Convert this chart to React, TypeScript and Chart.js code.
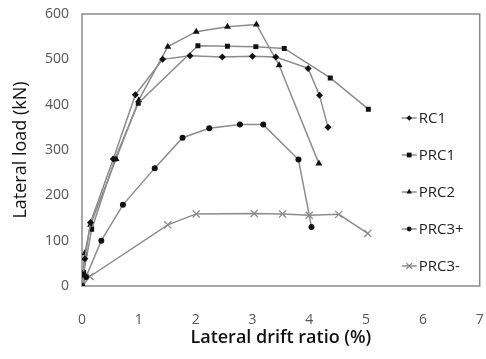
import React, { useEffect, useRef } from 'react';
import { Chart, registerables } from 'chart.js';

Chart.register(...registerables);

const seriesNames = ['RC1', 'PRC1', 'PRC2', 'PRC3+', 'PRC3-'];

const rc1X = [0, 0.02, 0.05, 0.15, 0.55, 0.94, 1.42, 1.9, 2.47, 3.0, 3.41, 3.98, 4.18, 4.33];
const rc1Y = [0, 25, 60, 140, 280, 422, 500, 508, 505, 507, 505, 480, 421, 350];

const prc1X = [0, 0.03, 0.17, 0.58, 0.99, 2.04, 2.56, 3.06, 3.56, 4.37, 5.04];
const prc1Y = [0, 30, 125, 280, 403, 530, 529, 528, 524, 459, 390];

const prc2X = [0, 0.05, 0.15, 0.6, 1.0, 1.51, 2.01, 2.56, 3.07, 3.47, 4.17];
const prc2Y = [0, 72, 135, 280, 410, 528, 561, 572, 577, 487, 270];

const prc3pX = [0, 0.07, 0.34, 0.72, 1.28, 1.77, 2.24, 2.78, 3.19, 3.81, 4.04];
const prc3pY = [0, 20, 100, 179, 260, 327, 348, 356, 356, 279, 130];

const prc3mX = [0, 0.14, 1.51, 2.01, 3.03, 3.53, 4.0, 4.52, 5.03];
const prc3mY = [0, 21, 135, 159, 160, 159, 156, 158, 116];

const xTicks = [0, 1, 2, 3, 4, 5, 6, 7];
const yTicks = [0, 100, 200, 300, 400, 500, 600];

const xs = [rc1X, prc1X, prc2X, prc3pX, prc3mX];
const ys = [rc1Y, prc1Y, prc2Y, prc3pY, prc3mY];
const styles = ['rectRot', 'rect', 'triangle', 'circle', 'crossRot'];
const radii = [3.5, 3.5, 4, 3, 5];
const markerColors = ['#111', '#111', '#111', '#111', '#8a8a8a'];
const lineColor = '#8c8c8c';
const FONT = '"Open Sans", "Noto Sans", sans-serif';

function drawMarker(ctx: CanvasRenderingContext2D, style: string, x: number, y: number, r: number, color: string) {
  ctx.save();
  ctx.fillStyle = color;
  ctx.strokeStyle = color;
  ctx.lineWidth = 1.3;
  ctx.beginPath();
  if (style === 'rectRot') {
    ctx.moveTo(x, y - r); ctx.lineTo(x + r, y); ctx.lineTo(x, y + r); ctx.lineTo(x - r, y); ctx.closePath(); ctx.fill();
  } else if (style === 'rect') {
    const s = r * 0.85;
    ctx.rect(x - s, y - s, 2 * s, 2 * s); ctx.fill();
  } else if (style === 'triangle') {
    ctx.moveTo(x, y - r); ctx.lineTo(x + r * 0.87, y + r * 0.5); ctx.lineTo(x - r * 0.87, y + r * 0.5); ctx.closePath(); ctx.fill();
  } else if (style === 'circle') {
    ctx.arc(x, y, r, 0, Math.PI * 2); ctx.fill();
  } else {
    const d = r * 0.7;
    ctx.moveTo(x - d, y - d); ctx.lineTo(x + d, y + d); ctx.moveTo(x + d, y - d); ctx.lineTo(x - d, y + d); ctx.stroke();
  }
  ctx.restore();
}

const framePlugin = {
  id: 'frame',
  beforeDatasetsDraw(chart: any) {
    const { left, right, top, bottom } = chart.chartArea;
    const ctx = chart.ctx;
    ctx.save();
    ctx.strokeStyle = '#8a8a8a';
    ctx.lineWidth = 1.5;
    ctx.strokeRect(left, top, right - left, bottom - top);
    ctx.restore();
  },
};

const legendPlugin = {
  id: 'customLegend',
  afterDraw(chart: any) {
    const { right, top } = chart.chartArea;
    const ctx = chart.ctx;
    seriesNames.forEach((name, i) => {
      const y = top + 104 + i * 37;
      const x0 = right - 78;
      const x1 = right - 63;
      ctx.save();
      ctx.strokeStyle = lineColor;
      ctx.lineWidth = 1.5;
      ctx.beginPath();
      ctx.moveTo(x0, y);
      ctx.lineTo(x1, y);
      ctx.stroke();
      ctx.restore();
      drawMarker(ctx, styles[i], (x0 + x1) / 2, y, radii[i] * 0.8, markerColors[i]);
      ctx.save();
      ctx.fillStyle = '#222';
      ctx.font = `15px ${FONT}`;
      ctx.textAlign = 'left';
      ctx.textBaseline = 'middle';
      ctx.fillText(name, x1 + 2, y + 1);
      ctx.restore();
    });
  },
};

export default function App() {
  const ref = useRef<HTMLCanvasElement | null>(null);
  useEffect(() => {
    if (!ref.current) return;
    const datasets = seriesNames.map((name, i) => ({
      label: name,
      data: xs[i].map((x, j) => ({ x, y: ys[i][j] })),
      showLine: true,
      borderColor: lineColor,
      borderWidth: 1.5,
      backgroundColor: markerColors[i],
      pointBackgroundColor: markerColors[i],
      pointBorderColor: markerColors[i],
      pointBorderWidth: i === 4 ? 1.3 : 0,
      pointStyle: styles[i],
      pointRadius: radii[i],
      tension: 0,
    }));
    const chart = new Chart(ref.current, {
      type: 'scatter',
      data: { datasets },
      plugins: [framePlugin, legendPlugin],
      options: {
        animation: false,
        responsive: false,
        maintainAspectRatio: false,
        layout: { padding: { left: 0, right: 4, top: 14, bottom: 0 } },
        plugins: { legend: { display: false }, tooltip: { enabled: false } },
        scales: {
          x: {
            type: 'linear',
            min: 0,
            max: 7,
            afterBuildTicks: (s: any) => { s.ticks = xTicks.map((v) => ({ value: v })); },
            afterFit: (s: any) => { s.height = 73; s.paddingLeft = 0; s.paddingRight = 0; },
            grid: { display: false, drawTicks: false },
            border: { display: false },
            ticks: { font: { family: FONT, size: 14 }, color: '#555', padding: 26 },
            title: { display: true, text: 'Lateral drift ratio (%)', font: { family: FONT, size: 18, weight: '600' }, color: '#111', padding: { top: 0, bottom: 10 } },
          },
          y: {
            type: 'linear',
            min: 0,
            max: 600,
            afterBuildTicks: (s: any) => { s.ticks = yTicks.map((v) => ({ value: v })); },
            afterFit: (s: any) => { s.width = 82; s.paddingTop = 0; s.paddingBottom = 0; },
            grid: { display: false, drawTicks: false },
            border: { display: false },
            ticks: { font: { family: FONT, size: 14 }, color: '#555', padding: 13 },
            title: { display: true, text: 'Lateral load (kN)', font: { family: FONT, size: 18 }, color: '#111', padding: { top: 10, bottom: 0 } },
          },
        },
      },
    } as any);
    return () => chart.destroy();
  }, []);
  return (
    <div style={{ position: 'absolute', left: 0, top: 0, width: 486, height: 359, background: '#fff' }}>
      <canvas ref={ref} width={486} height={359} style={{ width: 486, height: 359 }} />
    </div>
  );
}
